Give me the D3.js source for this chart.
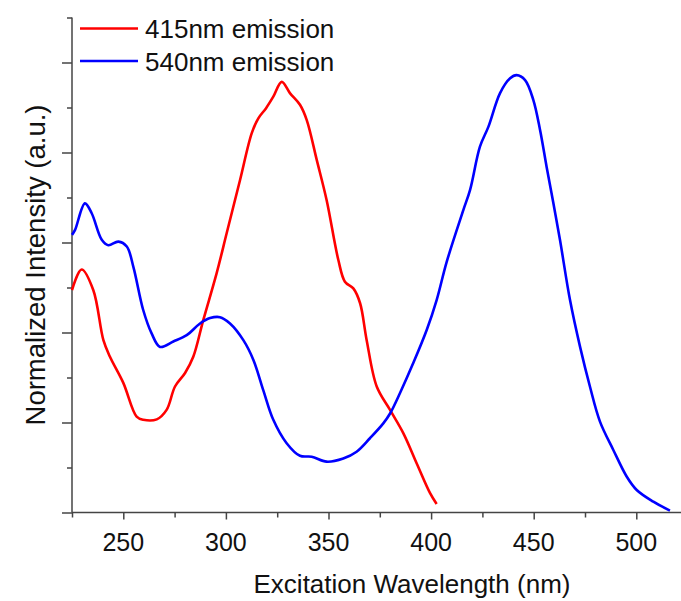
<!DOCTYPE html>
<html>
<head>
<meta charset="utf-8">
<script src="https://cdn.jsdelivr.net/npm/d3@7"></script>
<style>
  body { margin: 0; background: #fff; }
  text { font-family: "Liberation Sans", Arial, sans-serif; fill: #111; }
</style>
</head>
<body>
<script>
// excitation spectra (wavelength nm, normalized intensity)
var red_nm  = [225, 229.7, 235.4, 240.3, 243.5, 250, 256.5, 259.7, 266.3, 271.1, 275.2, 280.1, 284.1, 289, 295.5, 300.4, 306.9, 312.6, 315.8, 319.5, 323.1, 327.2, 331.2, 336.1, 339.4, 344.3, 349.1, 354.8, 358, 362.1, 365.4, 368.6, 373.5, 380, 386.5, 393, 399.5, 402.7];
var red_val = [0.494, 0.540, 0.494, 0.383, 0.346, 0.288, 0.213, 0.206, 0.207, 0.228, 0.280, 0.310, 0.346, 0.428, 0.532, 0.621, 0.739, 0.843, 0.876, 0.898, 0.924, 0.957, 0.932, 0.906, 0.872, 0.783, 0.694, 0.561, 0.513, 0.498, 0.465, 0.383, 0.280, 0.228, 0.176, 0.109, 0.043, 0.019];

var blue_nm  = [225, 226.5, 231.3, 234.6, 239.5, 242.7, 247.6, 251.7, 254.9, 259.7, 263.8, 267.9, 274.4, 280.9, 287.4, 292.3, 297.1, 302, 308.5, 313.4, 318.2, 323.1, 329.6, 336.1, 341.8, 349.1, 357.2, 363.7, 370.2, 376.7, 380, 384.8, 391.3, 397.9, 402.7, 407.6, 415.7, 419, 423.8, 427.9, 433.6, 438.5, 441.7, 445.8, 449.8, 453.1, 456.3, 459.6, 462.8, 467.7, 472.6, 477.4, 482.3, 488.8, 495.3, 500.2, 508.3, 516.4];
var blue_val = [0.617, 0.628, 0.687, 0.665, 0.606, 0.594, 0.602, 0.591, 0.546, 0.450, 0.398, 0.368, 0.380, 0.394, 0.420, 0.432, 0.434, 0.420, 0.383, 0.339, 0.272, 0.206, 0.154, 0.126, 0.124, 0.113, 0.120, 0.135, 0.165, 0.198, 0.220, 0.265, 0.332, 0.406, 0.472, 0.557, 0.672, 0.717, 0.813, 0.857, 0.932, 0.965, 0.972, 0.961, 0.917, 0.850, 0.768, 0.687, 0.606, 0.472, 0.368, 0.280, 0.202, 0.139, 0.080, 0.050, 0.024, 0.004];

var series_names = ["415nm emission", "540nm emission"];
var series_colors = ["#ff0000", "#0000ff"];
var x_ticks = [250, 300, 350, 400, 450, 500];

var width = 681;
var height = 601;

var svg = d3.select("body")
	.append("svg")
	.attr("width", width)
	.attr("height", height);

var x_scale = d3.scaleLinear()
	.domain([225, 525])
	.range([72, 687.6]);

var y_scale = d3.scaleLinear()
	.domain([0, 1.1])
	.range([512.5, 17.5]);

// x axis, major and minor ticks
var x_axis = d3.axisBottom(x_scale)
	.tickValues(d3.range(225, 525, 25))
	.tickSize(6)
	.tickFormat("");
var gx = svg.append("g")
	.attr("transform", "translate(0,512.5)")
	.call(x_axis);
gx.selectAll(".tick line").attr("y2", function(d) { return x_ticks.indexOf(d) >= 0 ? 7 : 5; });

gx.selectAll(".lbl")
	.data(x_ticks)
	.enter()
	.append("text")
	.attr("x", function(d) { return x_scale(d); })
	.attr("y", 38)
	.attr("text-anchor", "middle")
	.style("font-size", "25px")
	.text(function(d) { return d; });

// y axis, no labels
var y_axis = d3.axisLeft(y_scale)
	.tickValues(d3.range(0, 1.11, 0.1))
	.tickSize(10)
	.tickFormat("");
var gy = svg.append("g")
	.attr("transform", "translate(72,0)")
	.call(y_axis);
gy.selectAll(".tick line").attr("x2", function(d, i) { return i % 2 == 0 ? -10 : -5; });

svg.selectAll(".domain").attr("stroke", "#444").attr("stroke-width", 1.5);
svg.selectAll(".tick line").attr("stroke", "#444").attr("stroke-width", 1.5);
gy.select(".domain").attr("d", "M0,512.5V17.5");
gx.select(".domain").attr("d", "M72,0H681");

// curves
var line = d3.line()
	.x(function(d) { return x_scale(d[0]); })
	.y(function(d) { return y_scale(d[1]); })
	.curve(d3.curveCatmullRom.alpha(0.5));

var curves = [d3.zip(red_nm, red_val), d3.zip(blue_nm, blue_val)];
svg.selectAll(".curve")
	.data(curves)
	.enter()
	.append("path")
	.attr("d", line)
	.attr("fill", "none")
	.attr("stroke", function(d, i) { return series_colors[i]; })
	.attr("stroke-width", 2.6)
	.attr("stroke-linejoin", "round");

// legend
var legend = svg.selectAll(".legend")
	.data(series_names)
	.enter()
	.append("g")
	.attr("transform", function(d, i) { return "translate(0," + (28.5 + i * 32.5) + ")"; });
legend.append("line")
	.attr("x1", 80).attr("x2", 138)
	.attr("stroke", function(d, i) { return series_colors[i]; })
	.attr("stroke-width", 2.6);
legend.append("text")
	.attr("x", 145)
	.attr("y", 9.5)
	.style("font-size", "26px")
	.text(function(d) { return d; });

// titles
svg.append("text")
	.attr("x", 412)
	.attr("y", 593)
	.attr("text-anchor", "middle")
	.style("font-size", "26px")
	.text("Excitation Wavelength (nm)");

svg.append("text")
	.attr("transform", "translate(45,265) rotate(-90)")
	.attr("text-anchor", "middle")
	.style("font-size", "27.5px")
	.text("Normalized Intensity (a.u.)");
</script>
</body>
</html>
